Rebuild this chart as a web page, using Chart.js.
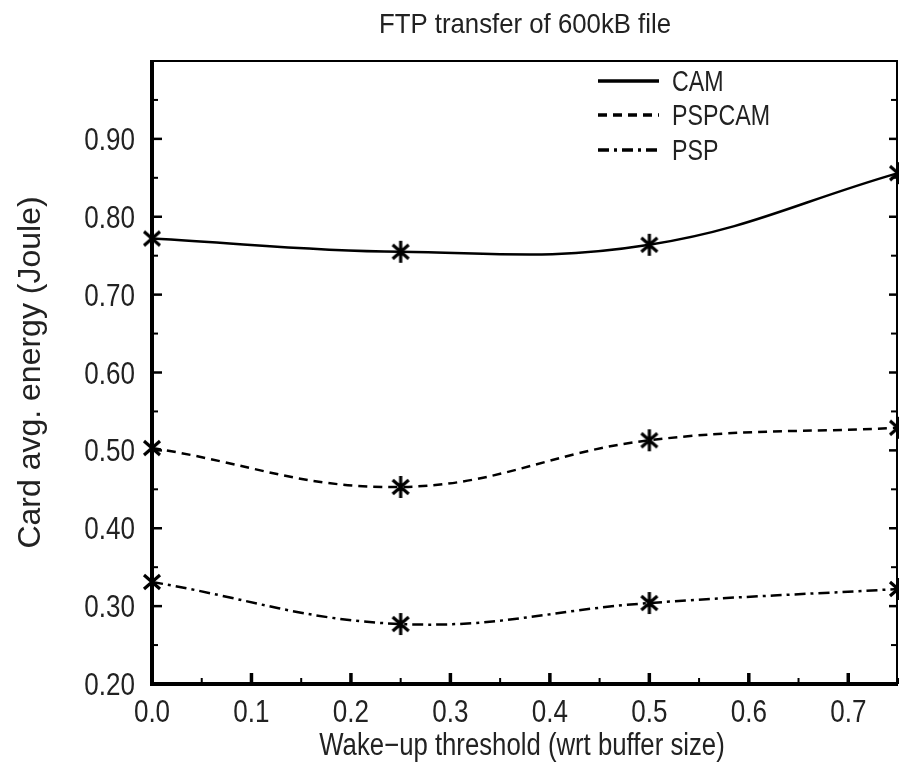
<!DOCTYPE html>
<html>
<head>
<meta charset="utf-8">
<title>FTP transfer of 600kB file</title>
<script src="https://cdn.jsdelivr.net/npm/chart.js@4.4.1/dist/chart.umd.min.js"></script>
<style>
    html, body { margin: 0; padding: 0; background: #fff; }
    #wrap { width: 899px; height: 768px; }
</style>
</head>
<body>
<div id="wrap"><canvas id="energyChart"></canvas></div>
<script>
// wake-up threshold (fraction of buffer size) and measured card energy (J)
const thresholds = [0, 0.25, 0.5, 0.75];
const camEnergy = [0.772, 0.755, 0.764, 0.856];
const pspcamEnergy = [0.503, 0.453, 0.513, 0.529];
const pspEnergy = [0.331, 0.277, 0.304, 0.322];

const xTickValues = [0, 0.1, 0.2, 0.3, 0.4, 0.5, 0.6, 0.7];
const yTickValues = [0.2, 0.3, 0.4, 0.5, 0.6, 0.7, 0.8, 0.9];

const chartTitle = 'FTP transfer of 600kB file';
const xTitle = 'Wake\u2212up threshold (wrt buffer size)';
const yTitle = 'Card avg. energy (Joule)';

const SANS = '"Liberation Sans", Arial, sans-serif';
const INK = '#222';

// no narrow face installed, so horizontal text is squeezed by hand
const drawNarrow = (ctx, text, x, y, size, squeeze, align) => {
    ctx.save();
    ctx.font = size + 'px ' + SANS;
    ctx.fillStyle = INK;
    ctx.textAlign = align;
    ctx.textBaseline = 'alphabetic';
    ctx.translate(x, y);
    ctx.scale(squeeze, 1);
    ctx.fillText(text, 0, 0);
    ctx.restore();
};

// six-armed asterisk used as the point marker
const makeAsterisk = () => {
    const c = document.createElement('canvas');
    c.width = 22;
    c.height = 24;
    const g = c.getContext('2d');
    g.strokeStyle = '#000';
    g.lineWidth = 3.2;
    g.beginPath();
    g.moveTo(11, 1); g.lineTo(11, 23);
    g.moveTo(3, 5); g.lineTo(19, 19);
    g.moveTo(19, 5); g.lineTo(3, 19);
    g.stroke();
    return c;
};
const asterisk = makeAsterisk();

const series = (label, values, dash) => ({
    label: label,
    data: thresholds.map((t, i) => ({ x: t, y: values[i] })),
    borderColor: '#000',
    borderWidth: 2.5,
    borderDash: dash,
    tension: 0.4,
    pointStyle: asterisk,
    pointRadius: 11,
    clip: false
});

// box frame plus inward ticks (major at labels, minor halfway)
const frameAndTicks = {
    id: 'frameAndTicks',
    beforeDatasetsDraw(chart) {
        const { ctx, chartArea: a, scales: { x, y } } = chart;
        ctx.save();
        ctx.strokeStyle = '#000';

        ctx.lineWidth = 2;
        ctx.beginPath();
        ctx.moveTo(a.left, a.top);
        ctx.lineTo(a.right - 1, a.top);
        ctx.lineTo(a.right - 1, a.bottom);
        ctx.stroke();

        ctx.lineWidth = 4;
        ctx.beginPath();
        ctx.moveTo(a.left, a.top - 1);
        ctx.lineTo(a.left, a.bottom);
        ctx.lineTo(a.right, a.bottom);
        ctx.stroke();

        const tick = (x0, y0, x1, y1, w) => {
            ctx.lineWidth = w;
            ctx.beginPath();
            ctx.moveTo(x0, y0);
            ctx.lineTo(x1, y1);
            ctx.stroke();
        };

        xTickValues.forEach(v => {
            const px = x.getPixelForValue(v);
            tick(px, a.bottom, px, a.bottom - 11, 3.5);
            const mx = x.getPixelForValue(v + 0.05);
            tick(mx, a.bottom, mx, a.bottom - 6, 2);
        });

        yTickValues.forEach(v => {
            const py = y.getPixelForValue(v);
            const my = y.getPixelForValue(v + 0.05);
            tick(a.left, py, a.left + 10, py, 2.5);
            tick(a.left, my, a.left + 6, my, 2);
            tick(a.right - 1, py, a.right - 9, py, 2.5);
            tick(a.right - 1, my, a.right - 7, my, 2);
        });
        ctx.restore();
    }
};

// tick labels, chart title and x title
const axisText = {
    id: 'axisText',
    afterDraw(chart) {
        const { ctx, chartArea: a, scales: { x, y } } = chart;
        const mid = (a.left + a.right) / 2;
        x.ticks.forEach(t => {
            drawNarrow(ctx, t.value.toFixed(1), x.getPixelForValue(t.value), 722, 31, 0.84, 'center');
        });
        y.ticks.forEach(t => {
            drawNarrow(ctx, t.value.toFixed(2), 135, y.getPixelForValue(t.value) + 11, 31, 0.84, 'right');
        });
        drawNarrow(ctx, chartTitle, mid, 33, 28, 0.92, 'center');
        drawNarrow(ctx, xTitle, mid - 3, 755, 31, 0.83, 'center');
    }
};

// legend drawn inside the plot, top right
const insideLegend = {
    id: 'insideLegend',
    afterDatasetsDraw(chart) {
        const { ctx } = chart;
        const rows = [81, 115, 150];
        chart.data.datasets.forEach((ds, i) => {
            ctx.save();
            ctx.strokeStyle = '#000';
            ctx.lineWidth = 3.5;
            ctx.setLineDash(ds.borderDash || []);
            ctx.beginPath();
            ctx.moveTo(598, rows[i]);
            ctx.lineTo(659, rows[i]);
            ctx.stroke();
            ctx.restore();
            drawNarrow(ctx, ds.label, 672, rows[i] + 10, 29, 0.8, 'left');
        });
    }
};

new Chart(document.getElementById('energyChart'), {
    type: 'line',
    data: {
        datasets: [
            series('CAM', camEnergy, []),
            series('PSPCAM', pspcamEnergy, [9, 6]),
            series('PSP', pspEnergy, [11, 5, 3, 5])
        ]
    },
    options: {
        responsive: true,
        maintainAspectRatio: false,
        animation: false,
        layout: {
            autoPadding: false,
            padding: { left: 0, right: 1, top: 61, bottom: 0 }
        },
        plugins: {
            legend: { display: false },
            title: { display: false },
            tooltip: { enabled: false }
        },
        scales: {
            x: {
                type: 'linear',
                position: 'bottom',
                min: 0,
                max: 0.75,
                grid: { display: false, drawTicks: false },
                border: { display: false },
                ticks: { display: false },
                afterBuildTicks: s => { s.ticks = xTickValues.map(v => ({ value: v })); },
                afterFit: s => {
                    s.height = 84;
                    s.paddingLeft = 0;
                    s.paddingRight = 0;
                }
            },
            y: {
                type: 'linear',
                min: 0.2,
                max: 1.0,
                grid: { display: false, drawTicks: false },
                border: { display: false },
                ticks: { display: false },
                afterBuildTicks: s => { s.ticks = yTickValues.map(v => ({ value: v })); },
                afterFit: s => {
                    s.width = 152;
                    s.paddingTop = 0;
                    s.paddingBottom = 0;
                },
                title: {
                    display: true,
                    text: yTitle,
                    color: INK,
                    font: { family: SANS, size: 32 },
                    padding: { top: 12, bottom: 0 }
                }
            }
        }
    },
    plugins: [frameAndTicks, insideLegend, axisText]
});
</script>
</body>
</html>
